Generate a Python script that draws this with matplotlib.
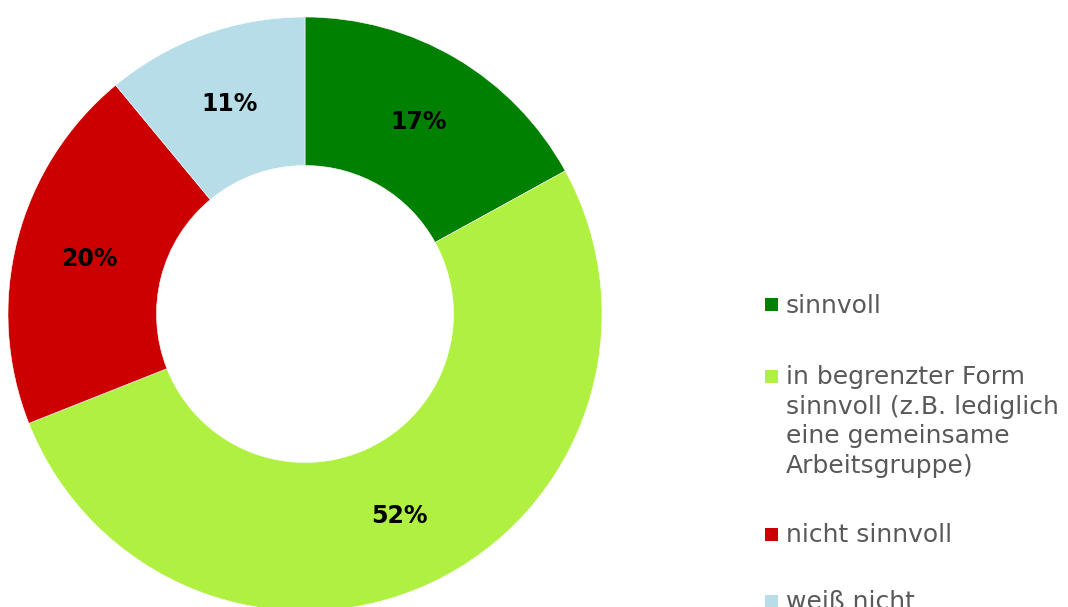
import matplotlib
matplotlib.use("Agg")
import matplotlib.pyplot as plt
from matplotlib.patches import Rectangle
import numpy as np

categories = ["sinnvoll",
              "in begrenzter Form\nsinnvoll (z.B. lediglich\neine gemeinsame\nArbeitsgruppe)",
              "nicht sinnvoll",
              "weiß nicht"]
values = [17, 52, 20, 11]
pct_labels = ["17%", "52%", "20%", "11%"]
colors = ["#008000", "#b0f040", "#cc0000", "#b7dde8"]

fig = plt.figure(figsize=(10.68, 6.07), dpi=100)
W, H = 1068, 607
ax = fig.add_axes([8 / W, (H - 611) / H, 594 / W, 594 / H])
wedges, _ = ax.pie(values, colors=colors, startangle=90, counterclock=False,
                   radius=1.0, wedgeprops=dict(width=0.5, edgecolor="white", linewidth=0.4))
ax.set_xlim(-1, 1)
ax.set_ylim(-1, 1)
ax.set_aspect("equal")
ax.axis("off")

cum = np.cumsum([0] + values[:-1])
total = sum(values)
for v, c0, lab in zip(values, cum, pct_labels):
    ang = np.deg2rad(90 - 360 * (c0 + v / 2) / total)
    r = 0.75
    ax.text(r * np.cos(ang), r * np.sin(ang), lab, ha="center", va="center",
            fontsize=17, fontweight="bold", color="black", family="DejaVu Sans")

# legend (manual)
centers = [304.5, 376, 534, 601]
for cat, col, y in zip(categories, colors, centers):
    fig.patches.append(Rectangle((765 / W, 1 - (y + 6.5) / H), 13 / W, 13 / H,
                                 transform=fig.transFigure, facecolor=col, edgecolor="none"))
    fig.text(786 / W, 1 - (y - 11) / H, cat, ha="left", va="top", fontsize=18,
             color="#595959", linespacing=1.3, family="DejaVu Sans")

fig.savefig("out.png", dpi=100)
